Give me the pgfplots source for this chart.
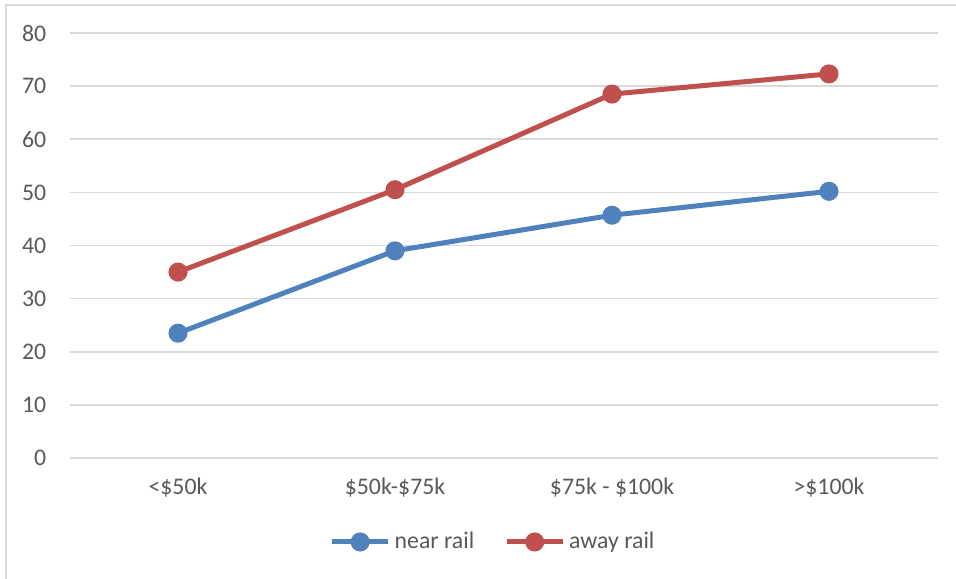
\documentclass[border=0pt]{standalone}
\usepackage{fontspec}
\setmainfont{Carlito}
\usepackage{pgfplots}
\pgfplotsset{compat=1.18}
\definecolor{txt}{HTML}{595959}
\definecolor{gridc}{HTML}{D9D9D9}
\definecolor{cblue}{HTML}{4F81BD}
\definecolor{cred}{HTML}{C0504D}
\begin{document}
\fontsize{11.9}{14}\selectfont
\begin{tikzpicture}
\begin{axis}[
  name=ax,
  scale only axis,
  width=434pt, height=212.5pt,
  xmin=-0.5, xmax=3.5, ymin=0, ymax=80,
  xtick={0,1,2,3},
  xticklabels={{<\$50k},{\$50k-\$75k},{\$75k - \$100k},{>\$100k}},
  ytick={0,10,...,80},
  xmajorgrids=false,
  ymajorgrids=true, major grid style={draw=gridc, line width=0.75pt},
  axis line style={draw=none},
  major tick length=0pt,
  tick label style={text=txt, font=\fontsize{11.9}{14}\selectfont},
  /pgf/number format/assume math mode=true,
  yticklabel style={anchor=east, xshift=-7.5pt},
  xticklabel style={anchor=north, yshift=-6pt},
  legend columns=2,
  legend style={at={(0.4891,-0.1976)}, anchor=center, draw=none, fill=none,
    text=txt, font=\fontsize{11.9}{14}\selectfont,
    /tikz/every even column/.append style={column sep=13pt}},
  legend image code/.code={\draw[mark repeat=2,mark phase=2] plot coordinates {(0pt,0pt)(14pt,0pt)(28pt,0pt)};},
  clip=false,
]
\addplot[cblue, line width=2.5pt, mark=*, mark size=3.5pt, mark options={solid}] coordinates {(0,23.5) (1,39.0) (2,45.7) (3,50.2)};
\addlegendentry{near rail}
\addplot[cred, line width=2.5pt, mark=*, mark size=3.5pt, mark options={solid}] coordinates {(0,35.0) (1,50.5) (2,68.5) (3,72.3)};
\addlegendentry{away rail}
\end{axis}
\path[use as bounding box] ([xshift=-34.75pt, yshift=-60pt]ax.south west) rectangle ([xshift=443.25pt, yshift=229pt]ax.south west);
\draw[gridc, line width=0.75pt] ([xshift=-31.75pt, yshift=-62pt]ax.south west) -- ([xshift=-31.75pt, yshift=226.5pt]ax.south west) -- ([xshift=446pt, yshift=226.5pt]ax.south west);
\end{tikzpicture}
\end{document}
